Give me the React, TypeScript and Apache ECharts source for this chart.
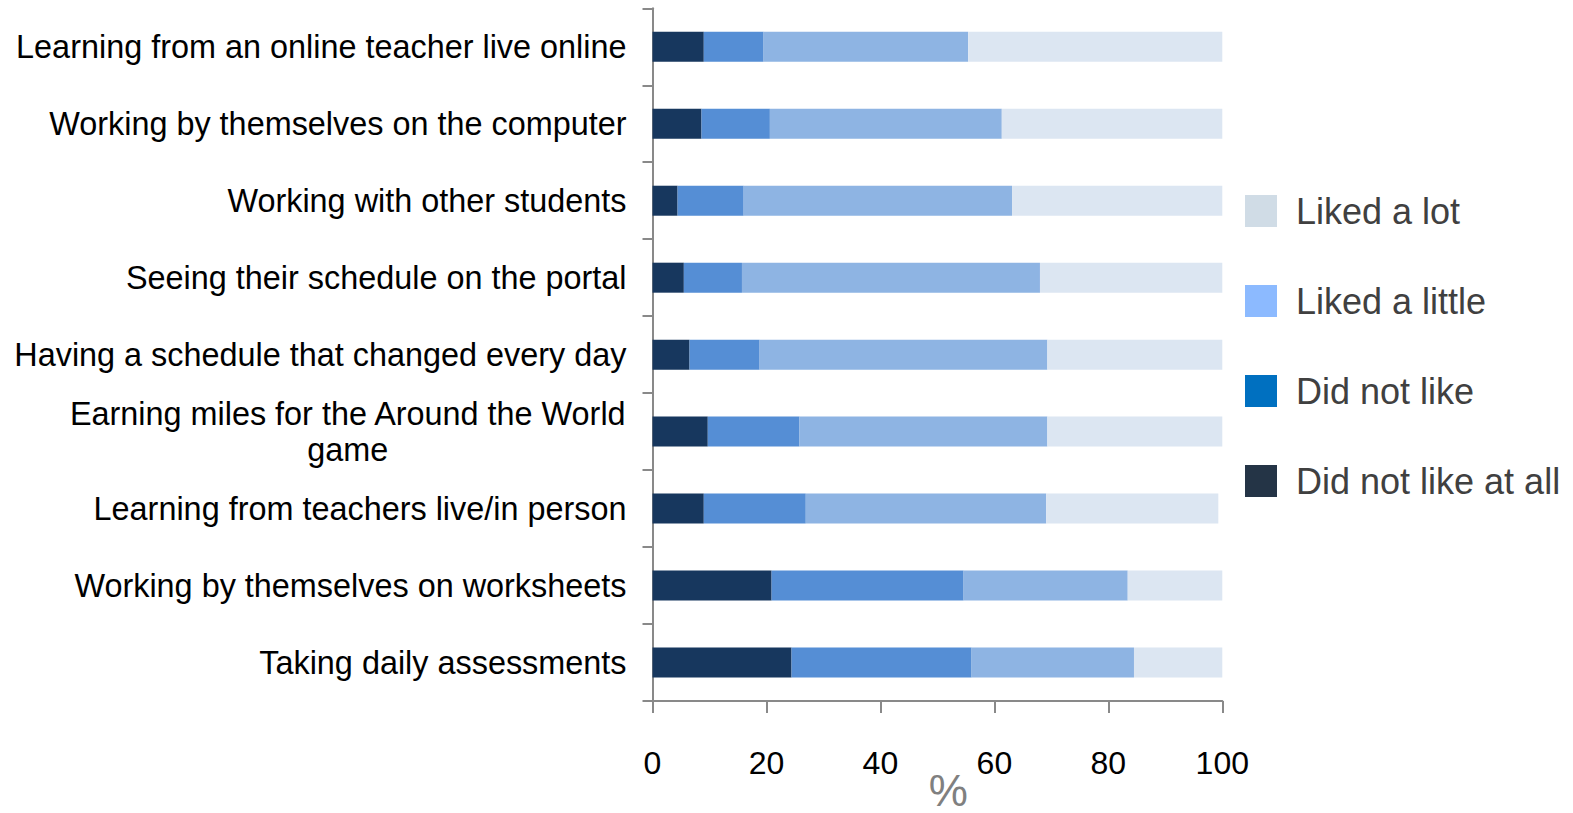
import React, { useEffect, useRef } from "react";
import * as echarts from "echarts";

const categories = [
  "Learning from an online teacher live online",
  "Working by themselves on the computer",
  "Working with other students",
  "Seeing their schedule on the portal",
  "Having a schedule that changed every day",
  "Earning miles for the Around the World\ngame",
  "Learning from teachers live/in person",
  "Working by themselves on worksheets",
  "Taking daily assessments",
];

const didNotLikeAtAll = [9.0, 8.6, 4.4, 5.5, 6.5, 9.7, 9.0, 20.9, 24.4];
const didNotLike = [10.5, 12.0, 11.6, 10.2, 12.3, 16.1, 17.9, 33.7, 31.6];
const likedALittle = [35.9, 40.7, 47.1, 52.3, 50.5, 43.5, 42.2, 28.8, 28.5];
const likedALot = [44.6, 38.7, 37.2, 32.0, 30.7, 30.7, 30.2, 16.6, 15.5];

const xTicks = [0, 20, 40, 60, 80, 100];

const FONT = "'Liberation Sans', Arial, sans-serif";
const AXIS_COLOR = "#898989";

export default function App() {
  const ref = useRef<HTMLDivElement>(null);

  useEffect(() => {
    if (!ref.current) return;
    const chart = echarts.init(ref.current, undefined, { renderer: "svg" });

    const seriesDefs = [
      { name: "Did not like at all", data: didNotLikeAtAll, color: "#17375e" },
      { name: "Did not like", data: didNotLike, color: "#558ed5" },
      { name: "Liked a little", data: likedALittle, color: "#8eb4e3" },
      { name: "Liked a lot", data: likedALot, color: "#dce6f2" },
    ];

    const option: any = {
      animation: false,
      grid: {
        left: 652.5,
        right: 350.7,
        top: 8.3,
        bottom: 112,
        containLabel: false,
        outerBoundsMode: "none",
      },
      legend: {
        orient: "vertical",
        left: 1245,
        top: 193,
        padding: 0,
        itemWidth: 32,
        itemHeight: 32,
        itemGap: 54,
        icon: "rect",
        textStyle: {
          fontSize: 36,
          color: "#404040",
          fontFamily: FONT,
          padding: [0, 0, 0, 14],
        },
        data: [
          { name: "Liked a lot", itemStyle: { color: "#d0dce6" } },
          { name: "Liked a little", itemStyle: { color: "#8cbaff" } },
          { name: "Did not like", itemStyle: { color: "#0070c0" } },
          { name: "Did not like at all", itemStyle: { color: "#243446" } },
        ],
      },
      xAxis: {
        type: "value",
        min: xTicks[0],
        max: xTicks[xTicks.length - 1],
        interval: 20,
        name: "%",
        nameLocation: "middle",
        nameGap: 67,
        nameMoveOverlap: false,
        nameTextStyle: {
          fontSize: 44,
          color: "#808080",
          fontFamily: FONT,
          padding: [0, 0, 0, 22],
        },
        axisLine: { show: true, lineStyle: { color: AXIS_COLOR, width: 2 } },
        axisTick: { show: true, length: 12, lineStyle: { color: AXIS_COLOR, width: 2 } },
        splitLine: { show: false },
        axisLabel: { fontSize: 32, color: "#000", margin: 46, fontFamily: FONT },
      },
      yAxis: {
        type: "category",
        data: categories,
        inverse: true,
        axisLine: { show: true, lineStyle: { color: AXIS_COLOR, width: 2 } },
        axisTick: { show: true, length: 10, interval: 0, lineStyle: { color: AXIS_COLOR, width: 2 } },
        splitLine: { show: false },
        axisLabel: {
          interval: 0,
          margin: 26,
          formatter: (v: string) =>
            v
              .split("\n")
              .map((l) => `{c|${l}}`)
              .join("\n"),
          rich: {
            c: {
              fontSize: 32.4,
              lineHeight: 36,
              color: "#000",
              fontFamily: FONT,
              align: "center",
            },
          },
        },
      },
      series: seriesDefs.map((s) => ({
        name: s.name,
        type: "bar",
        stack: "total",
        barWidth: 30,
        data: s.data,
        itemStyle: { color: s.color, borderWidth: 0 },
      })),
    };

    chart.setOption(option);
    return () => chart.dispose();
  }, []);

  return (
    <div
      ref={ref}
      style={{ position: "fixed", left: 0, top: 0, width: 1573, height: 813, background: "#fff" }}
    />
  );
}
